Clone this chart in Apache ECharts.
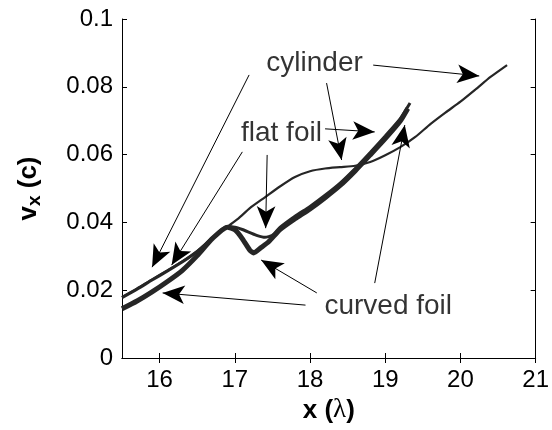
<!DOCTYPE html>
<html>
<head>
<meta charset="utf-8">
<script src="https://cdn.jsdelivr.net/npm/echarts@6/dist/echarts.min.js"></script>
<style>
  html, body { margin: 0; padding: 0; background: #fff; }
  #chart { width: 552px; height: 430px; }
</style>
</head>
<body>
<div id="chart"></div>
<script>
// Longitudinal velocity v_x versus position x for three target shapes.
const cylinderX = [15.5, 15.7, 15.9, 16.1, 16.3, 16.5, 16.7, 16.9, 17.05, 17.2, 17.4, 17.6, 17.8, 18.0, 18.2, 18.4, 18.6, 18.8, 19.0, 19.2, 19.4, 19.6, 19.8, 20.0, 20.2, 20.4, 20.62];
const cylinderY = [0.0180, 0.0205, 0.0232, 0.0258, 0.0285, 0.0316, 0.0353, 0.0387, 0.0412, 0.0442, 0.0474, 0.0506, 0.0534, 0.0551, 0.0559, 0.0563, 0.0567, 0.0578, 0.0598, 0.0622, 0.0652, 0.0690, 0.0724, 0.0756, 0.0792, 0.0829, 0.0864];

const flatFoilX = [15.5, 15.7, 15.9, 16.1, 16.3, 16.5, 16.7, 16.9, 17.0, 17.1, 17.2, 17.3, 17.4, 17.5, 17.6, 17.8, 18.0, 18.2, 18.4, 18.6, 18.8, 19.0, 19.2, 19.33];
const flatFoilY = [0.0178, 0.0203, 0.0230, 0.0256, 0.0283, 0.0314, 0.0354, 0.0388, 0.0386, 0.0379, 0.0370, 0.0361, 0.0356, 0.0362, 0.0385, 0.0418, 0.0447, 0.0480, 0.0516, 0.0559, 0.0606, 0.0655, 0.0706, 0.0752];

const curvedFoilX = [15.5, 15.7, 15.9, 16.1, 16.3, 16.5, 16.7, 16.9, 17.0, 17.1, 17.2, 17.25, 17.35, 17.45, 17.6, 17.8, 18.0, 18.2, 18.4, 18.6, 18.8, 19.0, 19.2, 19.3];
const curvedFoilY = [0.0145, 0.0168, 0.0195, 0.0225, 0.0258, 0.0302, 0.0352, 0.0386, 0.0378, 0.0352, 0.0318, 0.0310, 0.0326, 0.0343, 0.0379, 0.0411, 0.0440, 0.0473, 0.0509, 0.0552, 0.0599, 0.0647, 0.0699, 0.0736];

const xTicks = [16, 17, 18, 19, 20, 21];
const yTicks = [0, 0.02, 0.04, 0.06, 0.08, 0.1];
const yTickLabels = ['0', '0.02', '0.04', '0.06', '0.08', '0.1'];

// Annotation labels [x, y, text] and arrows [fromX, fromY, toX, toY]
const labelPoints = [
  [18.06, 0.0870, 'cylinder'],
  [17.62, 0.0662, 'flat foil'],
  [19.04, 0.0152, 'curved foil']
];
const cylinderArrows = [
  [18.84, 0.0864, 20.25, 0.0832],
  [18.22, 0.0811, 18.42, 0.0584],
  [17.19, 0.0835, 15.90, 0.0268]
];
const flatFoilArrows = [
  [17.10, 0.0608, 16.16, 0.0274],
  [17.43, 0.0599, 17.41, 0.0383],
  [18.20, 0.0676, 18.86, 0.0667]
];
const curvedFoilArrows = [
  [17.94, 0.0156, 16.04, 0.0192],
  [18.09, 0.0192, 17.35, 0.0289],
  [18.86, 0.0221, 19.26, 0.0687]
];

const FONT = '"Liberation Sans", Arial, sans-serif';
const INK = '#262626';

function pairs(xs, ys) { return xs.map((x, i) => [x, ys[i]]); }
function arrowData(list) {
  return list.map(a => [{ coord: [a[0], a[1]] }, { coord: [a[2], a[3]] }]);
}

const chart = echarts.init(document.getElementById('chart'), null, { renderer: 'canvas' });

const axisCommon = {
  axisLine: { show: true, lineStyle: { color: '#000', width: 1 } },
  axisTick: { show: true, inside: true, length: 5, lineStyle: { color: '#000', width: 1 } },
  splitLine: { show: false }
};

const arrowStyle = {
  silent: true, symbol: ['none', 'arrow'], symbolSize: [14, 22],
  label: { show: false }, lineStyle: { color: '#000', width: 1, type: 'solid' }
};

chart.setOption({
  animation: false,
  backgroundColor: '#fff',
  grid: { left: 122, right: 13, top: 19, bottom: 72, containLabel: false },
  xAxis: [
    Object.assign({}, axisCommon, {
      type: 'value', min: 15.5, max: 21, position: 'bottom',
      axisTick: Object.assign({}, axisCommon.axisTick, { customValues: xTicks }),
      axisLabel: { customValues: xTicks, fontSize: 24, color: '#000', fontFamily: FONT, margin: 10 },
      name: '{b|x (}{l|λ}{b|)}', nameLocation: 'middle', nameGap: 36,
      nameTextStyle: {
        rich: {
          b: { fontSize: 26, fontWeight: 'bold', color: '#000', fontFamily: FONT },
          l: { fontSize: 27, color: '#000', fontFamily: '"Liberation Serif", "DejaVu Serif", serif' }
        }
      }
    }),
    Object.assign({}, axisCommon, {
      type: 'value', min: 15.5, max: 21, position: 'top',
      axisTick: Object.assign({}, axisCommon.axisTick, { customValues: xTicks }),
      axisLabel: { show: false }
    })
  ],
  yAxis: [
    Object.assign({}, axisCommon, {
      type: 'value', min: 0, max: 0.1, interval: 0.02, position: 'left',
      axisLabel: {
        fontSize: 24, color: '#000', fontFamily: FONT, margin: 9,
        formatter: v => {
          const i = yTicks.findIndex(t => Math.abs(t - v) < 1e-9);
          return i >= 0 ? yTickLabels[i] : '';
        }
      },
      name: '{b|v}{s|x}{b| (c)}', nameLocation: 'middle', nameGap: 78,
      nameTextStyle: {
        rich: {
          b: { fontSize: 26, fontWeight: 'bold', color: '#000', fontFamily: FONT },
          s: { fontSize: 19, fontWeight: 'bold', color: '#000', fontFamily: FONT, padding: [12, 0, 0, 0] }
        }
      }
    }),
    Object.assign({}, axisCommon, {
      type: 'value', min: 0, max: 0.1, interval: 0.02, position: 'right',
      axisLabel: { show: false }
    })
  ],
  series: [
    {
      name: 'curved foil', type: 'line', xAxisIndex: 0, yAxisIndex: 0,
      data: pairs(curvedFoilX, curvedFoilY), showSymbol: false, smooth: 0.2,
      lineStyle: { color: INK, width: 5 }, silent: true,
      markLine: Object.assign({ data: arrowData(curvedFoilArrows) }, arrowStyle)
    },
    {
      name: 'flat foil', type: 'line', xAxisIndex: 0, yAxisIndex: 0,
      data: pairs(flatFoilX, flatFoilY), showSymbol: false, smooth: 0.2,
      lineStyle: { color: INK, width: 3 }, silent: true,
      markLine: Object.assign({ data: arrowData(flatFoilArrows) }, arrowStyle)
    },
    {
      name: 'cylinder', type: 'line', xAxisIndex: 0, yAxisIndex: 0,
      data: pairs(cylinderX, cylinderY), showSymbol: false, smooth: 0.2,
      lineStyle: { color: INK, width: 2.2 }, silent: true,
      markLine: Object.assign({ data: arrowData(cylinderArrows) }, arrowStyle)
    },
    {
      name: 'labels', type: 'scatter', xAxisIndex: 0, yAxisIndex: 0,
      data: labelPoints.map(p => ({ value: [p[0], p[1]], name: p[2] })),
      symbolSize: 0, silent: true,
      label: {
        show: true, position: 'inside', formatter: p => p.name,
        fontSize: 28, color: '#000', fontFamily: FONT
      }
    }
  ]
});
</script>
</body>
</html>
